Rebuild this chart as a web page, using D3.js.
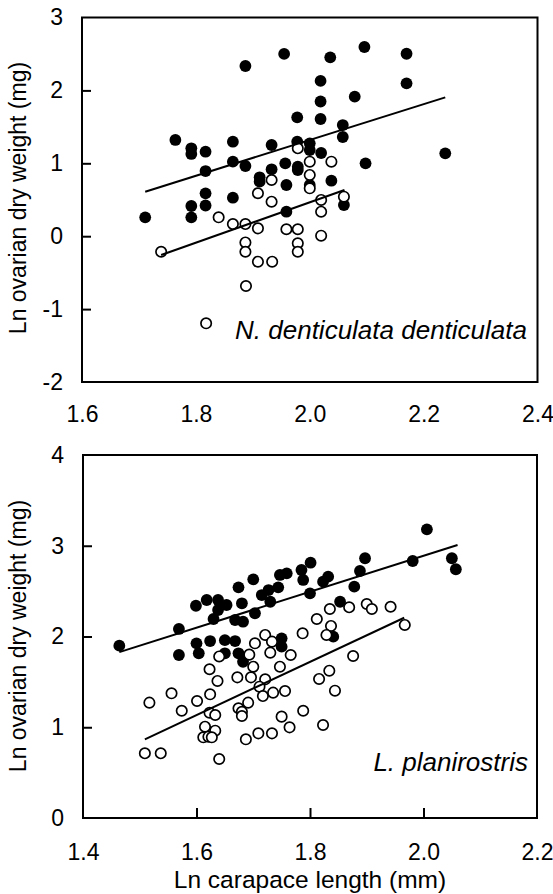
<!DOCTYPE html>
<html>
<head>
<meta charset="utf-8">
<script src="https://cdn.jsdelivr.net/npm/d3@7/dist/d3.min.js"></script>
<style>
  html, body { margin: 0; padding: 0; background: #fff; }
  svg { display: block; }
  text { font-family: "Liberation Sans", Arial, Helvetica, sans-serif; fill: #000; }
</style>
</head>
<body>
<svg id="chart" width="553" height="894"></svg>
<script>
// ---------- DATA ----------
// Panel A: N. denticulata denticulata  [ln carapace length, ln ovarian dry weight]
const topFilled = [
  [1.955,2.50],[1.887,2.335],[2.036,2.454],[2.096,2.595],[2.170,2.503],[2.019,2.13],
  [2.170,2.097],[2.079,1.914],[2.019,1.848],[1.978,1.631],[2.019,1.608],[2.058,1.525],
  [2.058,1.361],[1.933,1.251],[1.978,1.296],[2.000,1.274],[2.000,1.182],[2.020,1.141],
  [1.957,1.0],[1.979,0.953],[1.979,0.908],[1.933,0.918],[1.912,0.808],[1.912,0.748],
  [1.959,0.702],[2.000,0.702],[2.038,0.761],[2.098,1.0],[2.238,1.137],[1.959,0.336],
  [2.060,0.428],[1.764,1.320],[1.792,1.206],[1.792,1.128],[1.817,1.159],[1.865,1.296],
  [1.865,1.022],[1.887,0.963],[1.817,0.894],[1.817,0.588],[1.817,0.421],[1.792,0.414],
  [1.792,0.259],[1.865,0.528],[1.711,0.259]
];
const topOpen = [
  [1.739,-0.213],[1.840,0.259],[1.865,0.167],[1.887,0.167],[1.909,0.108],[1.887,-0.086],
  [1.887,-0.213],[1.909,-0.35],[1.934,-0.35],[1.888,-0.683],[1.818,-1.195],[1.909,0.589],
  [1.933,0.473],[1.933,0.771],[1.979,1.206],[2.000,1.022],[2.038,1.022],[2.000,0.84],
  [2.000,0.657],[2.020,0.497],[2.020,0.336],[2.060,0.542],[1.959,0.095],[1.979,0.095],
  [1.979,-0.097],[1.979,-0.213],[2.020,0.007]
];
// regression lines: [xStart, xEnd, intercept, slope]
const topFilledFit = [1.711, 2.238, -3.594, 2.457];
const topOpenFit   = [1.739, 2.061, -5.075, 2.77];

// Panel B: L. planirostris
const botFilled = [
  [1.464,1.899],[1.569,2.083],[1.599,2.339],[1.618,2.402],[1.638,2.402],[1.653,2.347],
  [1.638,2.292],[1.630,2.193],[1.674,2.542],[1.700,2.630],[1.680,2.366],[1.668,2.182],
  [1.682,2.163],[1.703,2.256],[1.715,2.457],[1.727,2.512],[1.730,2.383],[1.747,2.678],
  [1.600,1.925],[1.624,1.95],[1.650,1.96],[1.668,1.95],[2.006,3.181],[2.050,2.862],
  [2.057,2.741],[1.981,2.832],[1.897,2.862],[1.888,2.722],[1.878,2.549],[1.832,2.659],
  [1.823,2.604],[1.801,2.813],[1.785,2.733],[1.759,2.696],[1.788,2.623],[1.744,2.542],
  [1.800,2.476],[1.853,2.383],[1.841,1.998],[1.750,1.980],[1.750,1.888],[1.569,1.796],
  [1.604,1.815],[1.650,1.815],[1.674,1.815],[1.682,1.722]
];
const botOpen = [
  [1.703,1.925],[1.721,2.017],[1.733,1.943],[1.835,2.303],[1.869,2.322],[1.900,2.358],
  [1.909,2.303],[1.942,2.328],[1.812,2.193],[1.837,2.116],[1.829,2.017],[1.787,2.035],
  [1.967,2.127],[1.730,1.822],[1.623,1.639],[1.637,1.510],[1.672,1.550],[1.696,1.550],
  [1.700,1.667],[1.747,1.667],[1.721,1.528],[1.711,1.447],[1.717,1.344],[1.735,1.381],
  [1.556,1.374],[1.517,1.271],[1.574,1.182],[1.601,1.289],[1.624,1.363],[1.623,1.160],
  [1.633,1.135],[1.674,1.209],[1.680,1.171],[1.680,1.124],[1.691,1.271],[1.750,1.117],
  [1.615,1.006],[1.633,0.962],[1.612,0.889],[1.621,0.896],[1.627,0.889],[1.687,0.867],
  [1.709,0.933],[1.733,0.933],[1.509,0.713],[1.537,0.713],[1.640,0.650],[1.876,1.785],
  [1.834,1.623],[1.816,1.532],[1.844,1.403],[1.756,1.399],[1.766,1.796],[1.788,1.182],
  [1.764,0.999],[1.823,1.025],[1.640,1.78],[1.693,1.80]
];
const botFilledFit = [1.464, 2.060, -1.071, 1.98];
const botOpenFit   = [1.509, 1.966, -3.554, 2.93];

// axis tick values
const topXTicks = [1.6, 1.8, 2.0, 2.2, 2.4];
const topYTicks = [-2, -1, 0, 1, 2, 3];
const botXTicks = [1.4, 1.6, 1.8, 2.0, 2.2];
const botYTicks = [0, 1, 2, 3, 4];

const yTitle = "Ln ovarian dry weight (mg)";
const xTitle = "Ln carapace length (mm)";
const topLabel = "N. denticulata denticulata";
const botLabel = "L. planirostris";

// ---------- DRAWING ----------
const svg = d3.select("#chart");

function panel(cfg) {
  const x = d3.scaleLinear().domain(cfg.xDomain).range([cfg.left, cfg.right]);
  const y = d3.scaleLinear().domain(cfg.yDomain).range([cfg.bottom, cfg.top]);
  const g = svg.append("g");

  // y axis
  const yAxis = d3.axisLeft(y).tickValues(cfg.yTicks)
      .tickSizeInner(-9).tickSizeOuter(0).tickPadding(19)
      .tickFormat(d => String(d));
  const ya = g.append("g").attr("transform", `translate(${cfg.left},0)`).call(yAxis);
  ya.select(".domain").remove();
  ya.selectAll(".tick line").attr("stroke", "#000").attr("stroke-width", 2);
  ya.selectAll(".tick line").filter(d => d === cfg.yDomain[0] || d === cfg.yDomain[1]).remove();
  ya.selectAll("text").style("font-size", "23px").attr("fill", "#000");

  // x axis
  const xAxis = d3.axisBottom(x).tickValues(cfg.xTicks)
      .tickSizeInner(cfg.xTickIn ? -10 : 0).tickSizeOuter(0).tickPadding(cfg.xPad)
      .tickFormat(d3.format(".1f"));
  const xa = g.append("g").attr("transform", `translate(0,${cfg.bottom})`).call(xAxis);
  xa.select(".domain").remove();
  xa.selectAll(".tick line").attr("stroke", "#000").attr("stroke-width", 2);
  xa.selectAll(".tick line").filter(d => d === cfg.xDomain[0] || d === cfg.xDomain[1]).remove();
  xa.selectAll("text").style("font-size", "23px").attr("fill", "#000");

  // frame
  g.append("rect")
    .attr("x", cfg.left).attr("y", cfg.top)
    .attr("width", cfg.right - cfg.left).attr("height", cfg.bottom - cfg.top)
    .attr("fill", "none").attr("stroke", "#000").attr("stroke-width", 2);

  // points
  g.append("g").selectAll("circle").data(cfg.filled).join("circle")
    .attr("cx", d => x(d[0])).attr("cy", d => y(d[1])).attr("r", 5.9)
    .attr("fill", "#000");
  g.append("g").selectAll("circle").data(cfg.open).join("circle")
    .attr("cx", d => x(d[0])).attr("cy", d => y(d[1])).attr("r", 5.2)
    .attr("fill", "#fff").attr("stroke", "#000").attr("stroke-width", 1.7);

  // regression lines
  [cfg.fitA, cfg.fitB].forEach(f => {
    const [x0, x1, a, b] = f;
    g.append("line")
      .attr("x1", x(x0)).attr("y1", y(a + b * x0))
      .attr("x2", x(x1)).attr("y2", y(a + b * x1))
      .attr("stroke", "#000").attr("stroke-width", 2);
  });

  // y title
  g.append("text")
    .attr("transform", `translate(26,${cfg.titleY}) rotate(-90)`)
    .attr("text-anchor", "middle")
    .style("font-size", "23px")
    .text(yTitle);

  // species label
  g.append("text")
    .attr("x", cfg.labelX).attr("y", cfg.labelY)
    .attr("text-anchor", "end")
    .style("font-size", "26px").style("font-style", "italic")
    .text(cfg.label);
}

panel({
  xDomain: [1.6, 2.4], yDomain: [-2, 3],
  left: 82, right: 537.5, top: 17.5, bottom: 382,
  xTicks: topXTicks, yTicks: topYTicks, xTickIn: false, xPad: 24,
  filled: topFilled, open: topOpen, fitA: topFilledFit, fitB: topOpenFit,
  label: topLabel, labelX: 527, labelY: 339, titleY: 198
});

panel({
  xDomain: [1.4, 2.2], yDomain: [0, 4],
  left: 83, right: 537, top: 455, bottom: 818,
  xTicks: botXTicks, yTicks: botYTicks, xTickIn: true, xPad: 26,
  filled: botFilled, open: botOpen, fitA: botFilledFit, fitB: botOpenFit,
  label: botLabel, labelX: 528, labelY: 771, titleY: 636
});

svg.append("text")
  .attr("x", 310).attr("y", 888)
  .attr("text-anchor", "middle")
  .style("font-size", "24.5px")
  .text(xTitle);
</script>
</body>
</html>
